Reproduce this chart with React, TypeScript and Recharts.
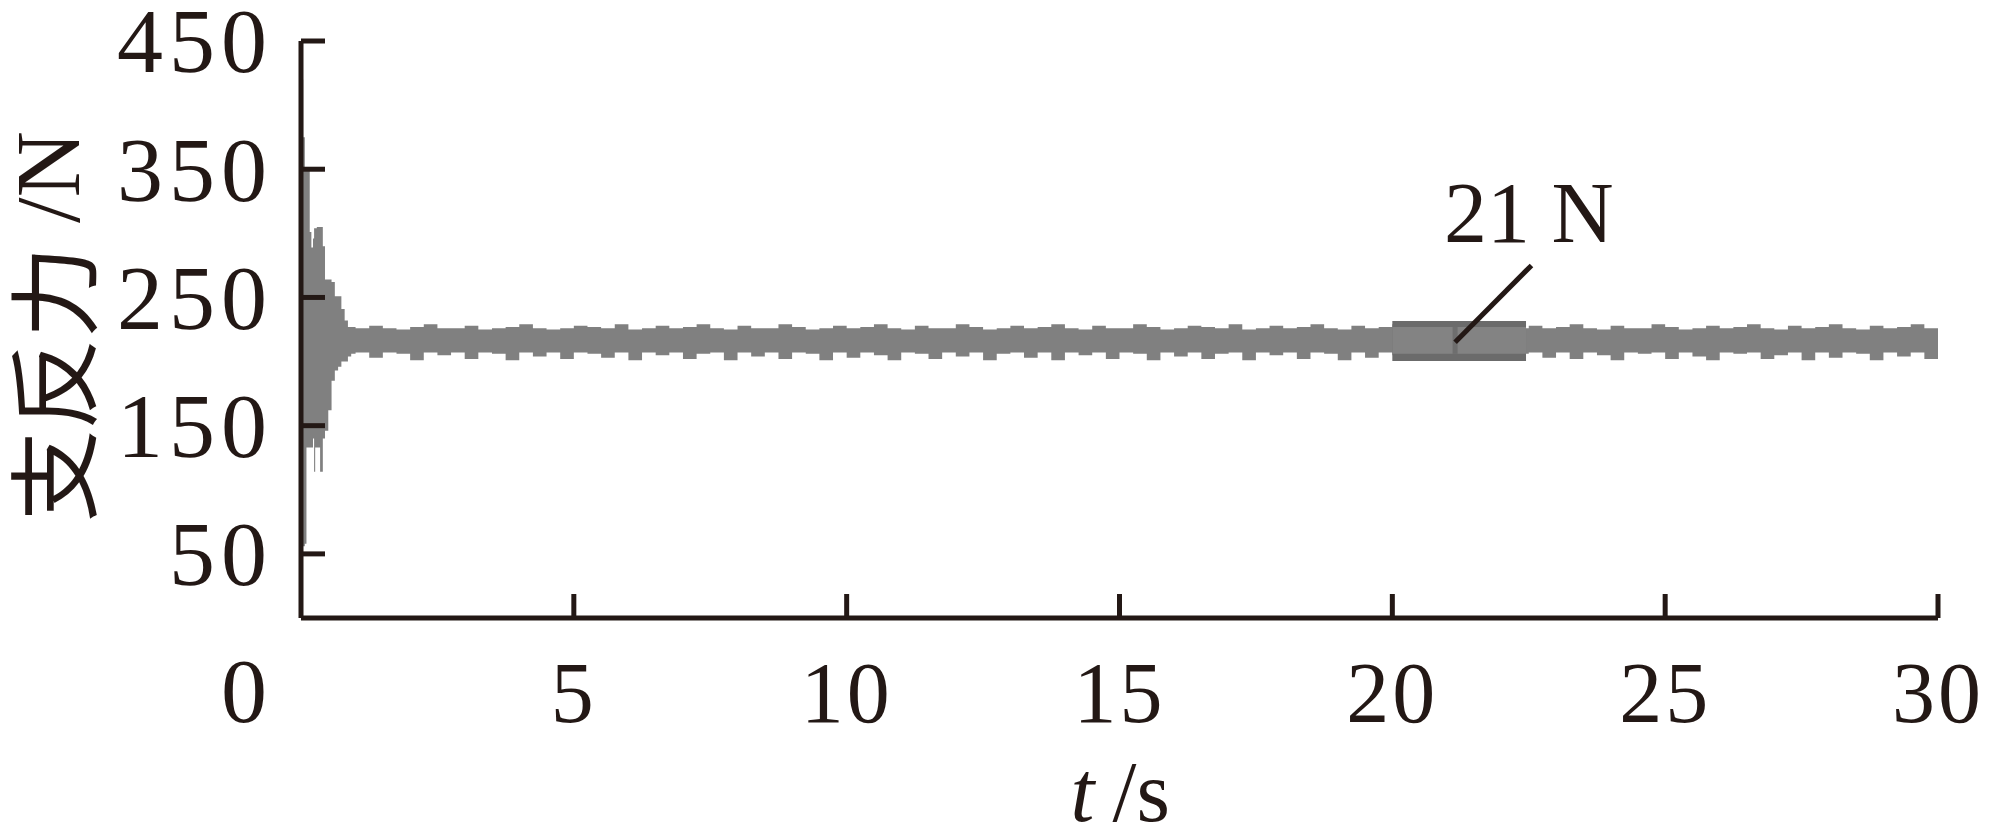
import React from 'react';
import { ComposedChart, Area, XAxis, YAxis, ReferenceArea, ReferenceLine, ReferenceDot } from 'recharts';

const INK = '#231815';
const SIGNAL = '#808080';
const SERIF = '"Liberation Serif", "Times New Roman", serif';
const CJK = '"Noto Sans CJK SC", sans-serif';

const xTicks = [5, 10, 15, 20, 25, 30];
const yTicks = [0, 50, 150, 250, 350, 450];

// start-up transient: envelope of the force signal (N)
const startTimes = [0, 0.04, 0.07, 0.1, 0.16, 0.19, 0.22, 0.24, 0.26, 0.29, 0.35, 0.4, 0.44, 0.5, 0.56, 0.62, 0.68, 0.74, 0.8, 0.86, 0.92];
const startUpper = [420, 375, 349, 349, 301, 289, 296, 304, 304, 305, 305, 290, 264, 264, 262, 251, 251, 241, 232, 227, 227];
const startLower = [56, 56, 58, 133, 133, 133, 140, 114, 133, 133, 114, 140, 146, 162, 185, 193, 196, 200, 200, 204, 206];

// steady running: envelope of the force signal (N)
const steadyTimes = [
  1, 1.25, 1.5, 1.75, 2, 2.25, 2.5, 2.75, 3, 3.25, 3.5, 3.75, 4, 4.25, 4.5, 4.75, 5, 5.25, 5.5, 5.75,
  6, 6.25, 6.5, 6.75, 7, 7.25, 7.5, 7.75, 8, 8.25, 8.5, 8.75, 9, 9.25, 9.5, 9.75, 10, 10.25, 10.5, 10.75,
  11, 11.25, 11.5, 11.75, 12, 12.25, 12.5, 12.75, 13, 13.25, 13.5, 13.75, 14, 14.25, 14.5, 14.75, 15, 15.25, 15.5, 15.75,
  16, 16.25, 16.5, 16.75, 17, 17.25, 17.5, 17.75, 18, 18.25, 18.5, 18.75, 19, 19.25, 19.5, 19.75, 20, 20.25, 20.5, 20.75,
  21, 21.25, 21.5, 21.75, 22, 22.25, 22.5, 22.75, 23, 23.25, 23.5, 23.75, 24, 24.25, 24.5, 24.75, 25, 25.25, 25.5, 25.75,
  26, 26.25, 26.5, 26.75, 27, 27.25, 27.5, 27.75, 28, 28.25, 28.5, 28.75, 29, 29.25, 29.5, 29.75, 30,
];
const steadyUpper = [
  226, 228, 226, 225, 227, 229, 226, 226, 228, 225, 226, 227, 229, 226, 225, 226, 228, 227, 226, 229,
  225, 226, 228, 226, 227, 229, 226, 225, 228, 226, 226, 229, 227, 225, 226, 228, 226, 227, 229, 226,
  225, 228, 226, 226, 229, 227, 225, 226, 228, 226, 227, 229, 226, 225, 228, 226, 226, 229, 227, 225,
  226, 228, 227, 226, 229, 225, 226, 228, 226, 227, 229, 226, 225, 228, 226, 227, 229, 226, 225, 226,
  228, 226, 229, 227, 225, 226, 228, 226, 227, 229, 226, 225, 228, 226, 226, 229, 227, 225, 226, 228,
  226, 227, 229, 226, 225, 228, 226, 227, 229, 226, 225, 228, 226, 227, 229, 226, 225,
];
const steadyLower = [
  207, 203, 207, 206, 201, 207, 205, 207, 202, 207, 206, 201, 207, 204, 207, 202, 207, 206, 203, 207,
  201, 207, 205, 207, 202, 206, 207, 201, 207, 204, 207, 202, 207, 206, 201, 207, 203, 207, 205, 201,
  207, 206, 202, 207, 204, 207, 201, 206, 207, 203, 207, 201, 207, 205, 207, 202, 207, 206, 201, 207,
  204, 207, 202, 206, 207, 201, 207, 205, 207, 202, 207, 206, 201, 207, 203, 207, 205, 201, 207, 206,
  202, 207, 204, 207, 201, 206, 207, 203, 207, 202, 207, 205, 201, 207, 206, 207, 202, 207, 204, 201,
  207, 206, 207, 202, 205, 207, 201, 207, 203, 207, 206, 201, 207, 204, 207, 202, 207,
];

// highlighted window (t in s, force in N) and its callout
const boxT = [20, 22.45];
const boxOuterV = [200.5, 231.7];
const boxInnerV = [206, 227];
const boxMarkT = 21.15;
const calloutT = [21.15, 22.55];
const calloutV = [215, 275];
const calloutText = '21 N';
const calloutAt = { t: 22.5, v: 317 };

const chartData = [
  ...startTimes.map((t, i) => ({ t, band: [startLower[i], startUpper[i]] })),
  ...steadyTimes.map((t, i) => ({ t, band: [steadyLower[i], steadyUpper[i]] })),
];

const Y_GAP = 28;
const X_GAP = 43;
const TICK_LEN = 24;

const yTextStyle = { fontFamily: SERIF, fontSize: 92, fill: INK };
const xTextStyle = { fontFamily: SERIF, fontSize: 86, fill: INK };

const YTick = (props: any) => {
  const { x, y, payload } = props;
  const axisX = x + Y_GAP;
  if (payload.value === 0) {
    // origin label sits on the x tick-label row
    return (
      <text x={x - 6} y={y + 104} textAnchor="end" style={yTextStyle}>
        0
      </text>
    );
  }
  return (
    <g>
      <line x1={axisX} x2={axisX + TICK_LEN} y1={y} y2={y} stroke={INK} strokeWidth={5} />
      <text x={x} y={y} dy="0.34em" textAnchor="end" style={yTextStyle} letterSpacing={6}>
        {payload.value}
      </text>
    </g>
  );
};

const XTick = (props: any) => {
  const { x, y, payload } = props;
  const axisY = y - X_GAP;
  return (
    <g>
      <line x1={x} x2={x} y1={axisY} y2={axisY - TICK_LEN} stroke={INK} strokeWidth={5} />
      <text x={x} y={y} dy="0.71em" textAnchor="middle" style={xTextStyle} letterSpacing={3}>
        {payload.value}
      </text>
    </g>
  );
};

const YLabel = (props: any) => {
  const { viewBox } = props;
  const cx = viewBox.x + 48;
  const cy = 327;
  const rot = `rotate(-90, ${cx}, ${cy})`;
  return (
    <g>
      <text
        x={cx - 195}
        y={cy}
        textAnchor="start"
        dominantBaseline="central"
        transform={rot}
        style={{ fontFamily: CJK, fontSize: 92, fill: INK }}
      >
        支反力
      </text>
      <text
        x={cx + 104}
        y={cy}
        textAnchor="start"
        dominantBaseline="central"
        transform={rot}
        style={{ fontFamily: SERIF, fontSize: 92, fill: INK }}
      >
        /N
      </text>
    </g>
  );
};

const XLabel = (props: any) => {
  const { viewBox } = props;
  const cx = viewBox.x + viewBox.width / 2;
  const baseY = viewBox.y + 203;
  return (
    <g>
      <text x={cx - 25} y={baseY} textAnchor="end" fontStyle="italic" style={xTextStyle}>
        t
      </text>
      <text x={cx - 7} y={baseY} textAnchor="start" style={xTextStyle}>
        /s
      </text>
    </g>
  );
};

const App: React.FC = () => {
  return (
    <div style={{ position: 'absolute', left: 0, top: 0, width: 1990, height: 836, background: '#fff' }}>
      <ComposedChart
        width={1990}
        height={836}
        data={chartData}
        margin={{ top: 41, right: 52, bottom: 0, left: 0 }}
      >
        <XAxis
          dataKey="t"
          type="number"
          domain={[0, 30]}
          ticks={xTicks}
          height={218}
          axisLine={{ stroke: INK, strokeWidth: 5 }}
          tickLine={false}
          tickSize={0}
          tickMargin={X_GAP}
          tick={<XTick />}
          interval={0}
          label={<XLabel />}
        />
        <YAxis
          type="number"
          domain={[0, 450]}
          ticks={yTicks}
          width={301}
          axisLine={{ stroke: INK, strokeWidth: 5 }}
          tickLine={false}
          tickSize={0}
          tickMargin={Y_GAP}
          tick={<YTick />}
          interval={0}
          label={<YLabel />}
        />
        <Area
          type="stepAfter"
          dataKey="band"
          fill={SIGNAL}
          fillOpacity={1}
          stroke="none"
          dot={false}
          activeDot={false}
          isAnimationActive={false}
        />
        <ReferenceArea
          x1={boxT[0]}
          x2={boxT[1]}
          y1={boxOuterV[0]}
          y2={boxOuterV[1]}
          fill="#6b6b6b"
          fillOpacity={1}
          stroke="none"
        />
        <ReferenceArea
          x1={boxT[0]}
          x2={boxT[1]}
          y1={boxInnerV[0]}
          y2={boxInnerV[1]}
          fill="#838383"
          fillOpacity={1}
          stroke="none"
        />
        <ReferenceLine
          segment={[
            { x: boxMarkT, y: boxInnerV[0] },
            { x: boxMarkT, y: boxInnerV[1] },
          ]}
          stroke="#6e6e6e"
          strokeWidth={5}
        />
        <ReferenceLine
          segment={[
            { x: calloutT[0], y: calloutV[0] },
            { x: calloutT[1], y: calloutV[1] },
          ]}
          stroke={INK}
          strokeWidth={5}
        />
        <ReferenceDot
          x={calloutAt.t}
          y={calloutAt.v}
          r={0}
          fill="none"
          stroke="none"
          label={{ value: calloutText, position: 'center', fill: INK, fontSize: 86, fontFamily: SERIF }}
        />
      </ComposedChart>
    </div>
  );
};

export default App;
